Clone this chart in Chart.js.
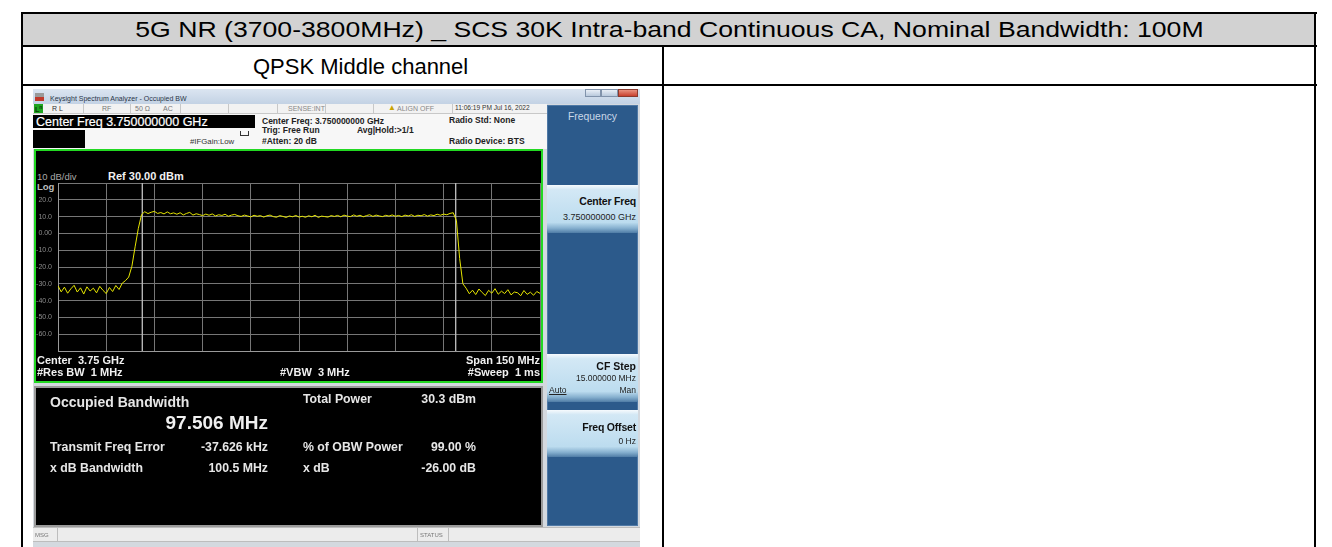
<!DOCTYPE html>
<html>
<head>
<meta charset="utf-8">
<script src="https://cdn.jsdelivr.net/npm/chart.js@4/dist/chart.umd.min.js"></script>
<style>
  body { margin: 0; background: #fff; width: 1332px; height: 547px; overflow: hidden; position: relative; font-family: "Liberation Sans", Arial, sans-serif; }
  .abs { position: absolute; box-sizing: border-box; }
  .t { position: absolute; white-space: nowrap; line-height: 1; }
  .b { font-weight: bold; }
  .r { text-align: right; }
  .btn { position: absolute; left: 547px; width: 91px; box-sizing: border-box;
         background: linear-gradient(#f6fafd 0, #d3e8f5 10%, #bcdcef 78%, #86b0cf 90%, #4f7ca6 100%); }
</style>
</head>
<body>

<!-- table -->
<div class="abs" style="left:22px;top:13px;width:1294px;height:32px;background:#d2d2d2;"></div>
<div class="abs" style="left:21px;top:12px;width:1296px;height:2px;background:#000;"></div>
<div class="abs" style="left:21px;top:12px;width:2px;height:540px;background:#000;"></div>
<div class="abs" style="left:1314px;top:12px;width:2px;height:540px;background:#000;"></div>
<div class="abs" style="left:21px;top:45px;width:1296px;height:2px;background:#000;"></div>
<div class="abs" style="left:21px;top:84px;width:1296px;height:2px;background:#000;"></div>
<div class="abs" style="left:662px;top:45px;width:2px;height:510px;background:#000;"></div>
<div class="t" style="left:22px;width:1294px;text-align:center;top:19px;font-size:22px;">
  <span style="display:inline-block;transform:scaleX(1.21);transform-origin:50% 50%;">5G NR (3700-3800MHz) _ SCS 30K Intra-band Continuous CA, Nominal Bandwidth: 100M</span>
</div>
<div class="t" style="left:253px;top:56px;font-size:22px;">QPSK Middle channel</div>

<!-- analyzer screenshot -->
<div class="abs" style="left:33px;top:89px;width:607px;height:460px;background:#d4d9df;"></div>
<!-- title bar -->
<div class="abs" style="left:33px;top:89px;width:607px;height:15px;background:linear-gradient(#dbe5f1,#c3d2e4);"></div>
<div class="abs" style="left:35px;top:93px;width:9px;height:8px;background:linear-gradient(#9a9a9a 0,#9a9a9a 45%,#c0392b 45%,#c0392b 100%);"></div>
<div class="t" style="left:50px;top:95px;font-size:7px;color:#2a3548;">Keysight Spectrum Analyzer - Occupied BW</div>
<div class="abs" style="left:585px;top:89px;width:16px;height:8px;background:linear-gradient(#e8eef6,#b9c9dc);border:1px solid #8193ab;"></div>
<div class="abs" style="left:601px;top:89px;width:17px;height:8px;background:linear-gradient(#e8eef6,#b9c9dc);border:1px solid #8193ab;"></div>
<div class="abs" style="left:618px;top:89px;width:20px;height:8px;background:linear-gradient(#e8917f,#c8402e);border:1px solid #8a3a2e;"></div>
<!-- status row -->
<div class="abs" style="left:33px;top:104px;width:514px;height:10px;background:#f2f2f2;border-bottom:1px solid #c8c8c8;"></div>
<div class="abs" style="left:34px;top:104px;width:9px;height:9px;background:#1fa51f;"></div>
<div class="t b" style="left:35px;top:105px;font-size:7px;color:#0a3a0a;">L<sup style="font-size:5px">n</sup></div>
<div class="abs" style="left:83px;top:104px;width:1px;height:10px;background:#c8c8c8;"></div>
<div class="abs" style="left:130px;top:104px;width:1px;height:10px;background:#c8c8c8;"></div>
<div class="abs" style="left:180px;top:104px;width:1px;height:10px;background:#c8c8c8;"></div>
<div class="abs" style="left:228px;top:104px;width:1px;height:10px;background:#c8c8c8;"></div>
<div class="abs" style="left:277px;top:104px;width:1px;height:10px;background:#c8c8c8;"></div>
<div class="abs" style="left:325px;top:104px;width:1px;height:10px;background:#c8c8c8;"></div>
<div class="abs" style="left:373px;top:104px;width:1px;height:10px;background:#c8c8c8;"></div>
<div class="abs" style="left:452px;top:104px;width:1px;height:10px;background:#c8c8c8;"></div>
<div class="t" style="left:52px;top:105px;font-size:7px;color:#333;">R L</div>
<div class="t" style="left:102px;top:105px;font-size:7px;color:#777;">RF</div>
<div class="t" style="left:135px;top:105px;font-size:7px;color:#777;">50 Ω</div>
<div class="t" style="left:163px;top:105px;font-size:7px;color:#777;">AC</div>
<div class="t" style="left:288px;top:105px;font-size:7px;color:#888;">SENSE:INT</div>
<div class="t" style="left:388px;top:104px;font-size:8px;color:#c9a400;">&#9650;</div>
<div class="t" style="left:397px;top:105px;font-size:7px;color:#888;">ALIGN OFF</div>
<div class="t" style="left:455px;top:105px;font-size:6.6px;color:#333;">11:06:19 PM Jul 16, 2022</div>
<!-- info area -->
<div class="abs" style="left:33px;top:114px;width:514px;height:35px;background:#f7f7f7;"></div>
<div class="abs" style="left:33px;top:115px;width:222px;height:13px;background:#000;"></div>
<div class="t" style="left:36px;top:115.5px;font-size:12.5px;color:#fff;-webkit-text-stroke:0.2px #fff;">Center Freq 3.750000000 GHz</div>
<div class="abs" style="left:33px;top:130px;width:52px;height:18px;background:#000;"></div>
<div class="t" style="left:190px;top:138px;font-size:7.8px;color:#333;">#IFGain:Low</div>
<div class="abs" style="left:240px;top:131px;width:9px;height:5px;border:1px solid #333;border-top:none;"></div>
<div class="t b" style="left:262px;top:117px;font-size:8.5px;color:#222;">Center Freq: 3.750000000 GHz</div>
<div class="t b" style="left:262px;top:126px;font-size:8.5px;color:#222;">Trig: Free Run</div>
<div class="t b" style="left:262px;top:137px;font-size:8.5px;color:#222;">#Atten: 20 dB</div>
<div class="t b" style="left:357px;top:126px;font-size:8.5px;color:#222;">Avg|Hold:&gt;1/1</div>
<div class="t b" style="left:449px;top:116px;font-size:8.5px;color:#222;">Radio Std: None</div>
<div class="t b" style="left:449px;top:137px;font-size:8.5px;color:#222;">Radio Device: BTS</div>

<!-- graph panel -->
<div class="abs" style="left:34px;top:149px;width:509px;height:234px;background:#000;border:2px solid #22d822;"></div>
<div class="t" style="left:37px;top:172px;font-size:9.5px;color:#a8a8a8;">10 dB/div</div>
<div class="t b" style="left:108px;top:171px;font-size:11px;color:#f0f0f0;">Ref 30.00 dBm</div>
<div class="t b" style="left:37px;top:182px;font-size:9.5px;color:#bdbdbd;">Log</div>
<canvas id="spectrum" class="abs" width="509" height="233" style="left:34px;top:150px;"></canvas>
<div class="t b" style="left:37px;top:355px;font-size:11px;color:#f0f0f0;">Center&nbsp; 3.75 GHz</div>
<div class="t b" style="left:37px;top:367px;font-size:11px;color:#f0f0f0;">#Res BW&nbsp; 1 MHz</div>
<div class="t b" style="left:280px;top:367px;font-size:11px;color:#f0f0f0;">#VBW&nbsp; 3 MHz</div>
<div class="t b r" style="left:380px;width:160px;top:355px;font-size:11px;color:#f0f0f0;">Span 150 MHz</div>
<div class="t b r" style="left:380px;width:160px;top:367px;font-size:11px;color:#f0f0f0;">#Sweep&nbsp; 1 ms</div>

<!-- metrics panel -->
<div class="abs" style="left:34px;top:386px;width:509px;height:141px;background:#000;border:2px solid #9a9a9a;"></div>
<div class="t b" style="left:50px;top:395px;font-size:14px;color:#e6e6e6;">Occupied Bandwidth</div>
<div class="t b r" style="left:120px;width:148px;top:413px;font-size:19px;color:#f0f0f0;">97.506 MHz</div>
<div class="t b" style="left:50px;top:441px;font-size:12.3px;color:#e6e6e6;">Transmit Freq Error</div>
<div class="t b r" style="left:168px;width:100px;top:441px;font-size:12.3px;color:#e6e6e6;">-37.626 kHz</div>
<div class="t b" style="left:50px;top:462px;font-size:12.3px;color:#e6e6e6;">x dB Bandwidth</div>
<div class="t b r" style="left:168px;width:100px;top:462px;font-size:12.3px;color:#e6e6e6;">100.5 MHz</div>
<div class="t b" style="left:303px;top:393px;font-size:12.3px;color:#e6e6e6;">Total Power</div>
<div class="t b r" style="left:376px;width:100px;top:393px;font-size:12.3px;color:#e6e6e6;">30.3 dBm</div>
<div class="t b" style="left:303px;top:441px;font-size:12.3px;color:#e6e6e6;">% of OBW Power</div>
<div class="t b r" style="left:376px;width:100px;top:441px;font-size:12.3px;color:#e6e6e6;">99.00 %</div>
<div class="t b" style="left:303px;top:462px;font-size:12.3px;color:#e6e6e6;">x dB</div>
<div class="t b r" style="left:376px;width:100px;top:462px;font-size:12.3px;color:#e6e6e6;">-26.00 dB</div>

<!-- msg bar -->
<div class="abs" style="left:33px;top:527px;width:607px;height:15px;background:#ececec;border-top:1px solid #bdbdbd;border-bottom:1px solid #bdbdbd;"></div>
<div class="abs" style="left:57px;top:528px;width:1px;height:13px;background:#bdbdbd;"></div>
<div class="abs" style="left:417px;top:528px;width:1px;height:13px;background:#bdbdbd;"></div>
<div class="abs" style="left:448px;top:528px;width:1px;height:13px;background:#bdbdbd;"></div>
<div class="t" style="left:35px;top:532px;font-size:6px;color:#777;">MSG</div>
<div class="t" style="left:420px;top:532px;font-size:6px;color:#777;">STATUS</div>

<!-- softkey panel -->
<div class="abs" style="left:547px;top:105px;width:91px;height:421px;background:#2c5a8b;border:1px solid #4f79a6;"></div>
<div class="t" style="left:547px;width:91px;text-align:center;top:111.5px;font-size:10.4px;color:#c9d8e8;">Frequency</div>
<div class="btn" style="top:185px;height:48px;"></div>
<div class="t b r" style="left:547px;width:89px;top:195.5px;font-size:10.5px;color:#111;letter-spacing:-0.2px;">Center Freq</div>
<div class="t r" style="left:547px;width:89px;top:212.5px;font-size:9px;color:#222;">3.750000000 GHz</div>
<div class="btn" style="top:354px;height:48px;"></div>
<div class="t b r" style="left:547px;width:89px;top:361px;font-size:10.5px;color:#111;">CF Step</div>
<div class="t r" style="left:547px;width:89px;top:373.5px;font-size:8.5px;color:#222;">15.000000 MHz</div>
<div class="t" style="left:549px;top:385.5px;font-size:8.5px;color:#222;text-decoration:underline;">Auto</div>
<div class="t r" style="left:547px;width:89px;top:385.5px;font-size:8.5px;color:#222;">Man</div>
<div class="btn" style="top:410px;height:47px;"></div>
<div class="t b r" style="left:547px;width:89px;top:421.5px;font-size:10.5px;color:#111;letter-spacing:-0.2px;">Freq Offset</div>
<div class="t r" style="left:547px;width:89px;top:436.5px;font-size:8.5px;color:#222;">0 Hz</div>

<script>
// trace sampled every 1 MHz from 3675 MHz to 3825 MHz (span 150 MHz)
const startFreq = 3675;
const stopFreq = 3825;
const stepFreq = 1;
const levels = [
  // left noise floor 3675 - 3696
  -31.2, -34.8, -32.0, -35.6, -33.0, -30.9, -34.9, -32.4, -36.1, -31.8,
  -34.3, -32.6, -35.4, -31.5, -33.9, -35.8, -32.2, -34.6, -31.0, -33.4,
  -29.6, -28.1,
  // lower skirt 3697 - 3701
  -26.0, -19.5, -8.0, 3.0, 11.2,
  // in-band 3702 - 3798
  12.9, 11.8, 12.6, 13.1, 11.9, 12.4, 11.6, 12.8, 11.7, 12.2,
  11.4, 12.3, 11.0, 11.9, 12.5, 10.9, 11.7, 11.2, 10.6, 11.5,
  10.8, 11.6, 10.4, 11.1, 10.7, 11.4, 10.2, 10.9, 11.3, 10.5,
  10.1, 10.9, 10.4, 9.8, 10.8, 10.2, 10.6, 9.7, 10.5, 10.9,
  10.0, 9.6, 10.6, 10.1, 9.5, 10.4, 9.9, 10.7, 9.7, 10.2,
  9.6, 10.5, 9.9, 10.8, 9.5, 10.3, 10.0, 9.7, 10.6, 10.1,
  10.7, 9.9, 10.9, 10.3, 10.0, 11.0, 10.2, 10.8, 9.9, 10.6,
  11.1, 10.1, 10.9, 10.4, 10.0, 10.8, 10.3, 11.0, 10.2, 10.7,
  10.0, 10.9, 10.4, 11.1, 10.1, 10.8, 10.5, 11.2, 10.3, 11.0,
  10.6, 11.4, 10.8, 11.5, 11.1, 11.9, 12.3,
  // upper skirt 3799 - 3801
  7.5, -15.0, -30.0,
  // right noise floor 3802 - 3825
  -32.6, -35.9, -33.8, -36.4, -33.1, -35.2, -37.0, -33.9, -35.6, -32.9,
  -36.2, -34.4, -35.8, -33.5, -36.6, -34.9, -35.3, -37.1, -34.0, -36.3,
  -35.0, -36.8, -34.6, -35.7
];
// occupied bandwidth edges (97.506 MHz around 3750 MHz)
const obwEdges = [3701.25, 3798.75];
const refLevel = 30;
const bottomLevel = -70;

const tracePoints = levels.map((v, i) => ({ x: startFreq + i * stepFreq, y: v }));

const markerSets = obwEdges.map(f => ({
    data: [{ x: f, y: refLevel }, { x: f, y: bottomLevel }],
    borderColor: '#b8b8b8',
    borderWidth: 1,
    pointRadius: 0
}));

new Chart(document.getElementById('spectrum').getContext('2d'), {
    type: 'line',
    data: {
        datasets: [{
            data: tracePoints,
            borderColor: '#e6e600',
            borderWidth: 1,
            pointRadius: 0,
            tension: 0
        }].concat(markerSets)
    },
    options: {
        responsive: false,
        animation: false,
        layout: { padding: { left: 2, top: 33, right: 3, bottom: 32 } },
        plugins: { legend: { display: false }, tooltip: { enabled: false } },
        scales: {
            x: {
                type: 'linear',
                min: startFreq,
                max: stopFreq,
                ticks: { display: false, stepSize: 15 },
                grid: { color: '#767676', drawTicks: false },
                border: { color: '#9a9a9a' },
                afterFit: s => { s.height = 0; }
            },
            y: {
                min: bottomLevel,
                max: refLevel,
                ticks: {
                    stepSize: 10,
                    padding: 6,
                    color: '#8c8c8c',
                    font: { size: 7, family: 'Liberation Sans' },
                    callback: v => (v === refLevel || v === bottomLevel) ? '' : (v === 0 ? '0.00' : v.toFixed(1))
                },
                grid: { color: '#767676', drawTicks: false },
                border: { color: '#9a9a9a' },
                afterFit: s => { s.width = 22; }
            }
        }
    }
});
</script>
</body>
</html>
